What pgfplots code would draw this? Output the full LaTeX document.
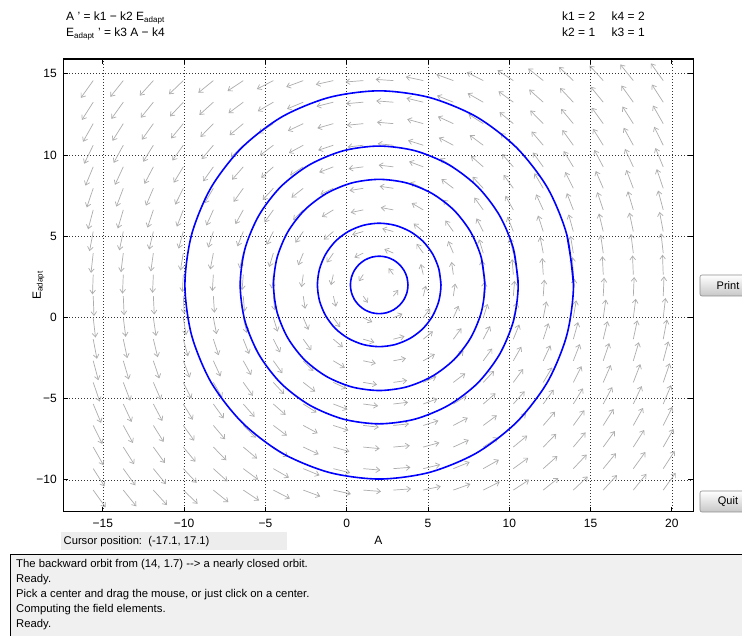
\documentclass[border=0pt]{standalone}
\usepackage{fontspec}
\setmainfont{Liberation Sans}
\usepackage{pgfplots}
\pgfplotsset{compat=1.18}
\usepackage{pgfplotstable}
\usetikzlibrary{arrows.meta}

% grid columns of the direction field: x and the second component E' = A - 2 there
\pgfplotstableread{
x v
-15.59 -17.59
-13.74 -15.74
-11.89 -13.89
-10.05 -12.05
-8.20 -10.20
-6.36 -8.36
-4.51 -6.51
-2.67 -4.67
-0.82 -2.82
1.02 -0.98
2.87 0.87
4.71 2.71
6.56 4.56
8.40 6.40
10.25 8.25
12.09 10.09
13.94 11.94
15.78 13.78
17.63 15.63
19.47 17.47
}\fieldcols

\pgfplotsset{fieldarrow/.style={draw=black!32, line width=0.7pt,
  -{Straight Barb[length=3.8pt,width=5.6pt]}, forget plot}}

% one row of arrows: #1 = E value of the row, #2 = A' = 2 - E on that row
\newcommand{\fieldrow}[2]{%
  \addplot[fieldarrow, quiver={
      u={0.47*(#2)/(veclen(#2,\thisrow{v})^0.6667)},
      v={0.47*(\thisrow{v})/(veclen(#2,\thisrow{v})^0.6667)}}]
    table[x=x, y expr=#1] {\fieldcols};}

\begin{document}
\begin{tikzpicture}
\fill[white] (0,0) rectangle (742pt,636pt);
\useasboundingbox (0,0) rectangle (742pt,636pt);
\begin{scope}
\clip (0,0) rectangle (742pt,636pt);

\begin{axis}[
  at={(63.3pt,124.3pt)}, anchor=south west,
  scale only axis, width=630pt, height=452.7pt,
  xmin=-17.43, xmax=21.32, ymin=-11.96, ymax=15.91,
  xtick={-15,-10,-5,0,5,10,15,20},
  xticklabels={−15,−10,−5,0,5,10,15,20},
  ytick={-10,-5,0,5,10,15},
  yticklabels={−10,−5,0,5,10,15},
  tick align=inside, major tick length=5pt,
  tick style={black, line width=0.8pt},
  axis line style={black, line width=1.2pt},
  grid=major,
  major grid style={black!80, line width=0.6pt, dash pattern=on 0.7pt off 2.3pt},
  ticklabel style={font=\fontsize{12}{14}\selectfont},
  xticklabel style={yshift=-4pt},
  yticklabel style={xshift=-3pt},
  xlabel={A},
  ylabel={E\textsubscript{adapt}},
  label style={font=\fontsize{12}{14}\selectfont},
  xlabel style={at={(axis description cs:0.5,0)}, anchor=base, yshift=-33.3pt},
  ylabel style={at={(axis description cs:-0.0357,0.5)}, anchor=base},
]
\fieldrow{-10.63}{12.63}
\fieldrow{-9.31}{11.31}
\fieldrow{-7.98}{9.98}
\fieldrow{-6.65}{8.65}
\fieldrow{-5.33}{7.33}
\fieldrow{-4.00}{6.00}
\fieldrow{-2.67}{4.67}
\fieldrow{-1.34}{3.34}
\fieldrow{-0.02}{2.02}
\fieldrow{1.31}{0.69}
\fieldrow{2.64}{-0.64}
\fieldrow{3.96}{-1.96}
\fieldrow{5.29}{-3.29}
\fieldrow{6.62}{-4.62}
\fieldrow{7.95}{-5.95}
\fieldrow{9.27}{-7.27}
\fieldrow{10.60}{-8.60}
\fieldrow{11.93}{-9.93}
\fieldrow{13.25}{-11.25}
\fieldrow{14.58}{-12.58}

\addplot[draw=blue, line width=1.6pt, smooth] coordinates {
(13.95,2) (13.54,5.09) (12.35,7.98) (10.45,10.45) (7.98,12.35) (5.09,13.54) (2,13.95) (-1.09,13.54) (-3.98,12.35) (-6.45,10.45) (-8.35,7.98) (-9.54,5.09) (-9.95,2) (-9.54,-1.09) (-8.35,-3.98) (-6.45,-6.45) (-3.98,-8.35) (-1.09,-9.54) (2,-9.95) (5.09,-9.54) (7.98,-8.35) (10.45,-6.45) (12.35,-3.98) (13.54,-1.09) (13.95,2) (13.54,5.09)};
\addplot[draw=blue, line width=1.6pt, smooth] coordinates {
(10.55,2) (10.26,4.21) (9.40,6.28) (8.05,8.05) (6.28,9.40) (4.21,10.26) (2,10.55) (-0.21,10.26) (-2.28,9.40) (-4.05,8.05) (-5.40,6.28) (-6.26,4.21) (-6.55,2) (-6.26,-0.21) (-5.40,-2.28) (-4.05,-4.05) (-2.28,-5.40) (-0.21,-6.26) (2,-6.55) (4.21,-6.26) (6.28,-5.40) (8.05,-4.05) (9.40,-2.28) (10.26,-0.21) (10.55,2) (10.26,4.21)};
\addplot[draw=blue, line width=1.6pt, smooth] coordinates {
(8.5,2) (8.28,3.68) (7.63,5.25) (6.60,6.60) (5.25,7.63) (3.68,8.28) (2,8.5) (0.32,8.28) (-1.25,7.63) (-2.60,6.60) (-3.63,5.25) (-4.28,3.68) (-4.5,2) (-4.28,0.32) (-3.63,-1.25) (-2.60,-2.60) (-1.25,-3.63) (0.32,-4.28) (2,-4.5) (3.68,-4.28) (5.25,-3.63) (6.60,-2.60) (7.63,-1.25) (8.28,0.32) (8.5,2) (8.28,3.68)};
\addplot[draw=blue, line width=1.6pt, smooth] coordinates {
(5.8,2) (5.67,2.98) (5.29,3.9) (4.69,4.69) (3.9,5.29) (2.98,5.67) (2,5.8) (1.02,5.67) (0.1,5.29) (-0.69,4.69) (-1.29,3.9) (-1.67,2.98) (-1.8,2) (-1.67,1.02) (-1.29,0.1) (-0.69,-0.69) (0.1,-1.29) (1.02,-1.67) (2,-1.8) (2.98,-1.67) (3.9,-1.29) (4.69,-0.69) (5.29,0.1) (5.67,1.02) (5.8,2) (5.67,2.98)};
\addplot[draw=blue, line width=1.6pt, smooth] coordinates {
(3.77,2) (3.71,2.46) (3.53,2.89) (3.25,3.25) (2.89,3.53) (2.46,3.71) (2,3.77) (1.54,3.71) (1.11,3.53) (0.75,3.25) (0.47,2.89) (0.29,2.46) (0.23,2) (0.29,1.54) (0.47,1.11) (0.75,0.75) (1.11,0.47) (1.54,0.29) (2,0.23) (2.46,0.29) (2.89,0.47) (3.25,0.75) (3.53,1.11) (3.71,1.54) (3.77,2) (3.71,2.46)};
\end{axis}

% equations and parameters above the axes
\begin{scope}[every node/.style={font=\fontsize{12}{14}\selectfont, inner sep=0pt}]
\node[anchor=base west] at (66pt,615pt) {A ' = k1 − k2 E\textsubscript{adapt}};
\node[anchor=base west] at (66pt,599pt) {E\textsubscript{adapt} ' = k3 A − k4};
\node[anchor=base west] at (562pt,615pt) {k1 = 2};
\node[anchor=base west] at (611.5pt,615pt) {k4 = 2};
\node[anchor=base west] at (562pt,599pt) {k2 = 1};
\node[anchor=base west] at (611.5pt,599pt) {k3 = 1};
\end{scope}

% cursor position field
\fill[black!7] (61pt,86pt) rectangle (287pt,104pt);
\node[anchor=base west, inner sep=0pt, font=\fontsize{11.2}{13}\selectfont] at (63.5pt,91.5pt) {Cursor position:\ \ (-17.1, 17.1)};

% buttons
\shadedraw[top color=white, bottom color=black!22, draw=black!45, rounded corners=2pt, line width=0.6pt] (700pt,340pt) rectangle (750pt,361pt);
\node[font=\fontsize{11}{12}\selectfont] at (728pt,350.5pt) {Print};
\shadedraw[top color=white, bottom color=black!22, draw=black!45, rounded corners=2pt, line width=0.6pt] (700pt,124pt) rectangle (750pt,145pt);
\node[font=\fontsize{11}{12}\selectfont] at (728pt,134.5pt) {Quit};

% message box
\filldraw[fill=black!6, draw=black, line width=0.9pt] (10pt,-2pt) rectangle (746pt,82pt);
\begin{scope}[every node/.style={anchor=base west, inner sep=0pt, font=\fontsize{11.3}{13}\selectfont}]
\node at (16pt,68pt) {The backward orbit from (14, 1.7) -{}-{}> a nearly closed orbit.};
\node at (16pt,53pt) {Ready.};
\node at (16pt,38pt) {Pick a center and drag the mouse, or just click on a center.};
\node at (16pt,23pt) {Computing the field elements.};
\node at (16pt,8.5pt) {Ready.};
\end{scope}
\end{scope}
\end{tikzpicture}
\end{document}
